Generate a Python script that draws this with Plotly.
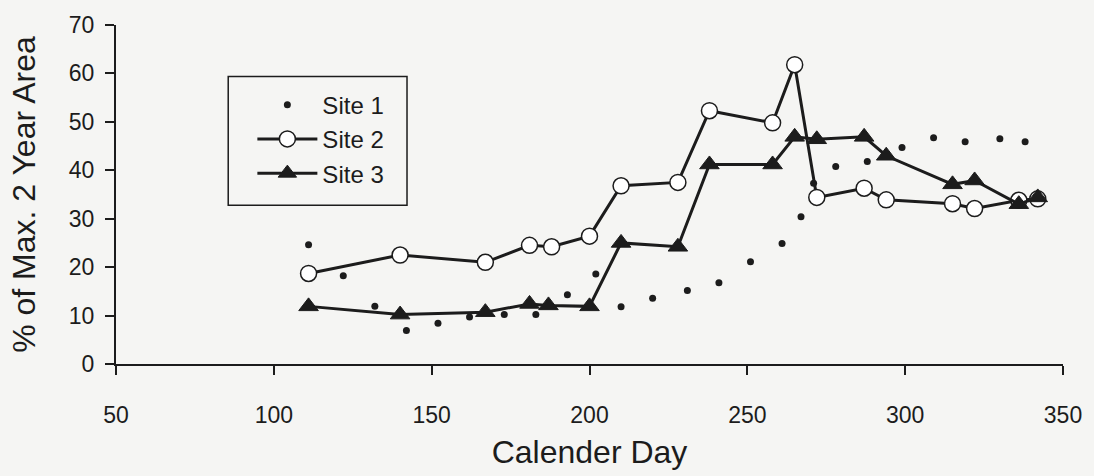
import plotly.graph_objects as go

# ── data ───────────────────────────────────────────────────
site1_day = [111, 122, 132, 142, 152, 162, 173, 183, 193, 202, 210, 220, 231,
             241, 251, 261, 267, 271, 278, 288, 299, 309, 319, 330, 338]
site1_pct = [24.6, 18.2, 11.9, 6.9, 8.4, 9.7, 10.2, 10.2, 14.3, 18.6, 11.8, 13.6, 15.2,
             16.8, 21.1, 24.9, 30.4, 37.3, 40.8, 41.8, 44.7, 46.7, 45.9, 46.5, 45.9]

site2_day = [111, 140, 167, 181, 188, 200, 210, 228, 238, 258, 265, 272, 287,
             294, 315, 322, 336, 342]
site2_pct = [18.7, 22.5, 21.0, 24.5, 24.2, 26.4, 36.8, 37.5, 52.3, 49.8, 61.8, 34.4, 36.3,
             33.9, 33.1, 32.1, 33.8, 34.1]

site3_day = [111, 140, 167, 181, 187, 200, 210, 228, 238, 258, 265, 272, 287,
             294, 315, 322, 336, 342]
site3_pct = [11.9, 10.2, 10.7, 12.4, 12.1, 11.9, 25.0, 24.2, 41.2, 41.2, 46.9, 46.4, 46.9,
             43.0, 37.1, 37.9, 33.0, 34.4]

x_ticks = [50, 100, 150, 200, 250, 300, 350]
y_ticks = [0, 10, 20, 30, 40, 50, 60, 70]

INK = "#1c1c1c"
PAPER = "#f5f5f3"
FONT = "Liberation Sans, Arial, sans-serif"

fig = go.Figure()

fig.add_trace(go.Scatter(
    x=site1_day, y=site1_pct, name="Site 1", mode="markers",
    marker=dict(symbol="circle", size=7, color=INK),
))
fig.add_trace(go.Scatter(
    x=site2_day, y=site2_pct, name="Site 2", mode="lines+markers",
    line=dict(color=INK, width=3),
    marker=dict(symbol="circle", size=16, color="white",
                line=dict(color=INK, width=1.5)),
))
fig.add_trace(go.Scatter(
    x=site3_day, y=site3_pct, name="Site 3", mode="lines+markers",
    line=dict(color=INK, width=3),
    marker=dict(symbol="triangle-up", size=17, color=INK,
                line=dict(color=INK, width=1)),
))

# legend frame
fig.add_shape(type="rect", xref="paper", yref="paper",
              x0=0.1185, x1=0.3073, y0=0.468, y1=0.848,
              line=dict(color=INK, width=1.5), fillcolor="rgba(0,0,0,0)")

fig.update_layout(
    width=1094, height=476,
    paper_bgcolor=PAPER, plot_bgcolor=PAPER,
    font=dict(family=FONT, color=INK, size=22),
    margin=dict(l=116, r=30, t=20, b=108),
    showlegend=True,
    legend=dict(
        x=0.144, y=0.83, xanchor="left", yanchor="top",
        bgcolor="rgba(0,0,0,0)", borderwidth=0,
        font=dict(size=24, color=INK), itemwidth=60,
        tracegroupgap=0,
    ),
)

fig.update_xaxes(
    range=[50, 350], tickvals=x_ticks, showgrid=False, zeroline=False,
    showline=True, linecolor=INK, linewidth=2,
    ticks="outside", ticklen=9, tickwidth=2, tickcolor=INK,
    ticklabelstandoff=20, tickfont=dict(size=23),
    title=dict(text="Calender Day", font=dict(size=32), standoff=14),
)
fig.update_yaxes(
    range=[0, 70], tickvals=y_ticks, showgrid=False, zeroline=False,
    showline=True, linecolor=INK, linewidth=2,
    ticks="outside", ticklen=9, tickwidth=2, tickcolor=INK,
    ticklabelstandoff=6, tickfont=dict(size=23),
    title=dict(text="% of Max. 2 Year Area", font=dict(size=32), standoff=24),
)

fig.write_html("out.html", config={"displayModeBar": False},
               post_script="document.body.style.margin='0';")
